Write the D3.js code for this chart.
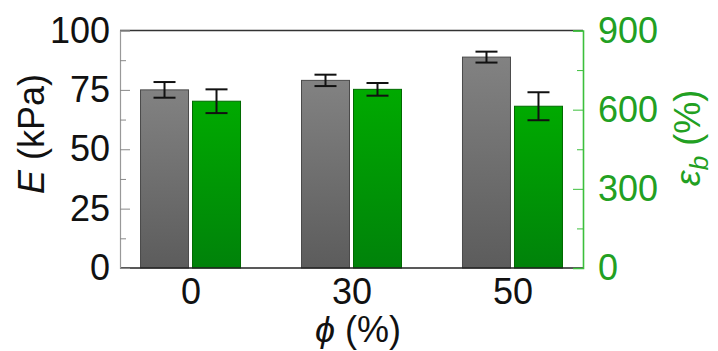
<!DOCTYPE html>
<html>
<head>
<meta charset="utf-8">
<script src="https://cdn.jsdelivr.net/npm/d3@7"></script>
<style>
  body { margin: 0; background: #fff; }
  text { font-family: "Liberation Sans", Arial, sans-serif; }
</style>
</head>
<body>
<svg id="chart" width="718" height="351"></svg>
<script>
const categories = ["0", "30", "50"];
const modulusE = [75, 79, 88.8];          // kPa
const modulusErr = [3.3, 2.4, 2.3];
const strainB = [632, 677, 613];          // %
const strainErr = [45, 24, 53];
const leftTicks = [0, 25, 50, 75, 100];
const rightTicks = [0, 300, 600, 900];

const svg = d3.select("#chart");
const L = 120, R = 583, T = 30.5, B = 268;

const x = d3.scalePoint().domain(categories).range([L, R]).padding(0.438);
const yL = d3.scaleLinear().domain([0, 100]).range([B, T]);
const yR = d3.scaleLinear().domain([0, 900]).range([B, T]);

const defs = svg.append("defs");
const gg = defs.append("linearGradient").attr("id", "gGray").attr("x1", 0).attr("y1", 0).attr("x2", 0).attr("y2", 1);
gg.append("stop").attr("offset", 0).attr("stop-color", "#828282");
gg.append("stop").attr("offset", 1).attr("stop-color", "#5c5c5c");
const gn = defs.append("linearGradient").attr("id", "gGreen").attr("x1", 0).attr("y1", 0).attr("x2", 0).attr("y2", 1);
gn.append("stop").attr("offset", 0).attr("stop-color", "#00aa00");
gn.append("stop").attr("offset", 1).attr("stop-color", "#00820a");

const bw = 48, off = 26;
const green = "#22a022";

// bars
svg.selectAll(".barE").data(categories).enter().append("rect")
  .attr("x", d => x(d) - off - bw / 2)
  .attr("y", (d, i) => yL(modulusE[i]))
  .attr("width", bw)
  .attr("height", (d, i) => B - yL(modulusE[i]))
  .attr("fill", "url(#gGray)").attr("stroke", "#4a4a4a").attr("stroke-width", 1);
svg.selectAll(".barS").data(categories).enter().append("rect")
  .attr("x", d => x(d) + off - bw / 2)
  .attr("y", (d, i) => yR(strainB[i]))
  .attr("width", bw)
  .attr("height", (d, i) => B - yR(strainB[i]))
  .attr("fill", "url(#gGreen)").attr("stroke", "#006a00").attr("stroke-width", 1);

// error bars
function errBars(cx, v, e, y) {
  const g = svg.append("g").attr("stroke", "#111").attr("stroke-width", 2).attr("fill", "none");
  g.append("line").attr("x1", cx).attr("x2", cx).attr("y1", y(v + e)).attr("y2", y(v - e));
  g.append("line").attr("x1", cx - 11).attr("x2", cx + 11).attr("y1", y(v + e)).attr("y2", y(v + e));
  g.append("line").attr("x1", cx - 11).attr("x2", cx + 11).attr("y1", y(v - e)).attr("y2", y(v - e));
}
categories.forEach((c, i) => {
  errBars(x(c) - off, modulusE[i], modulusErr[i], yL);
  errBars(x(c) + off, strainB[i], strainErr[i], yR);
});

// frame
svg.append("line").attr("x1", L).attr("x2", R).attr("y1", T).attr("y2", T).attr("stroke", "#333").attr("stroke-width", 1.5);
svg.append("line").attr("x1", L).attr("x2", R).attr("y1", B).attr("y2", B).attr("stroke", "#222").attr("stroke-width", 1.5);

// left axis
const gL = svg.append("g").attr("transform", `translate(${L},0)`)
  .call(d3.axisLeft(yL).tickValues(leftTicks).tickSize(-10).tickPadding(10));
gL.select(".domain").attr("stroke", "#999").attr("stroke-width", 1.2);
gL.selectAll(".tick line").attr("stroke", "#888");
gL.selectAll("text").attr("font-size", 36).attr("fill", "#111").attr("font-family", "Liberation Sans, Arial, sans-serif");
const gLm = svg.append("g").attr("transform", `translate(${L},0)`)
  .call(d3.axisLeft(yL).tickValues([12.5, 37.5, 62.5, 87.5]).tickSize(-6).tickFormat(""));
gLm.select(".domain").remove();
gLm.selectAll(".tick line").attr("stroke", "#888");

// right axis
const gR = svg.append("g").attr("transform", `translate(${R},0)`)
  .call(d3.axisRight(yR).tickValues(rightTicks).tickSize(-10).tickPadding(15));
gR.select(".domain").attr("stroke", "#3cbf3c").attr("stroke-width", 1.6);
gR.selectAll(".tick line").attr("stroke", "#3cbf3c");
gR.selectAll("text").attr("font-size", 36).attr("fill", green).attr("font-family", "Liberation Sans, Arial, sans-serif");
const gRm = svg.append("g").attr("transform", `translate(${R},0)`)
  .call(d3.axisRight(yR).tickValues([150, 450, 750]).tickSize(-6).tickFormat(""));
gRm.select(".domain").remove();
gRm.selectAll(".tick line").attr("stroke", "#3cbf3c");

// bottom axis labels
const gB = svg.append("g").attr("transform", `translate(0,${B})`)
  .call(d3.axisBottom(x).tickSize(0).tickPadding(10));
gB.select(".domain").remove();
gB.selectAll("text").attr("font-size", 36).attr("fill", "#111").attr("font-family", "Liberation Sans, Arial, sans-serif");

// axis titles
const tx = svg.append("text").attr("x", 358).attr("y", 342).attr("text-anchor", "middle")
  .attr("font-size", 36).attr("fill", "#111");
tx.append("tspan").attr("font-style", "italic").text("\u03d5");
tx.append("tspan").text(" (%)");

const ty = svg.append("text").attr("transform", "translate(44,134) rotate(-90)")
  .attr("text-anchor", "middle").attr("font-size", 36).attr("fill", "#111");
ty.append("tspan").attr("font-style", "italic").text("E");
ty.append("tspan").text(" (kPa)");

const tr = svg.append("text").attr("transform", "translate(700,138) rotate(-90)")
  .attr("text-anchor", "middle").attr("font-size", 36).attr("fill", green);
tr.append("tspan").attr("font-style", "italic").text("\u03b5");
tr.append("tspan").attr("font-style", "italic").attr("font-size", 26).attr("dy", 8).text("b");
tr.append("tspan").attr("dy", -8).text(" (%)");
</script>
</body>
</html>
